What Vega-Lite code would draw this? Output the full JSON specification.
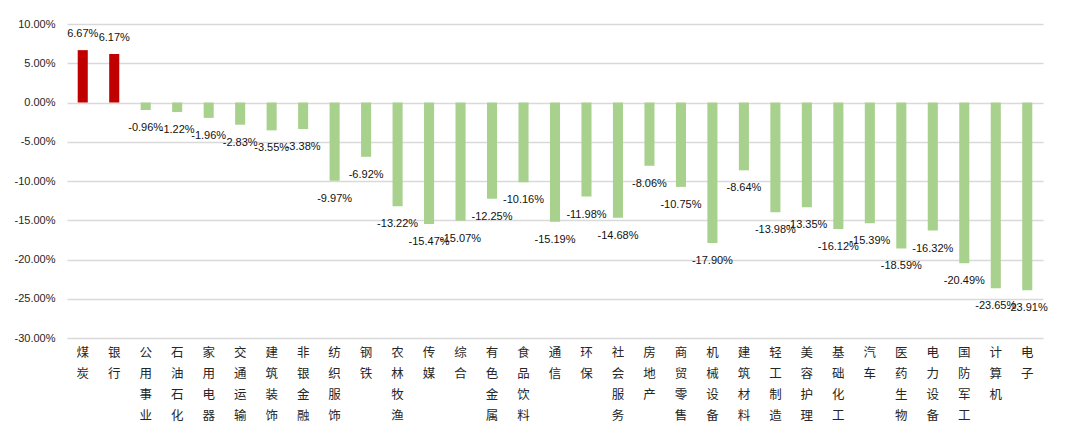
{
  "$schema": "https://vega.github.io/schema/vega-lite/v6.json",
  "autosize": {"type": "none"},
  "width": 976,
  "height": 314,
  "padding": {"left": 67, "top": 24, "right": 24, "bottom": 109},
  "background": "white",
  "config": {
    "view": {"stroke": null},
    "locale": {"number": {"decimal": ".", "thousands": ",", "grouping": [3], "currency": ["$", ""], "minus": "-", "percent": "%"}}
  },
  "data": {"values": [
    {"industry": "煤炭", "ret": 0.0667},
    {"industry": "银行", "ret": 0.0617},
    {"industry": "公用事业", "ret": -0.0096},
    {"industry": "石油石化", "ret": -0.0122},
    {"industry": "家用电器", "ret": -0.0196},
    {"industry": "交通运输", "ret": -0.0283},
    {"industry": "建筑装饰", "ret": -0.0355},
    {"industry": "非银金融", "ret": -0.0338},
    {"industry": "纺织服饰", "ret": -0.0997},
    {"industry": "钢铁", "ret": -0.0692},
    {"industry": "农林牧渔", "ret": -0.1322},
    {"industry": "传媒", "ret": -0.1547},
    {"industry": "综合", "ret": -0.1507},
    {"industry": "有色金属", "ret": -0.1225},
    {"industry": "食品饮料", "ret": -0.1016},
    {"industry": "通信", "ret": -0.1519},
    {"industry": "环保", "ret": -0.1198},
    {"industry": "社会服务", "ret": -0.1468},
    {"industry": "房地产", "ret": -0.0806},
    {"industry": "商贸零售", "ret": -0.1075},
    {"industry": "机械设备", "ret": -0.1790},
    {"industry": "建筑材料", "ret": -0.0864},
    {"industry": "轻工制造", "ret": -0.1398},
    {"industry": "美容护理", "ret": -0.1335},
    {"industry": "基础化工", "ret": -0.1612},
    {"industry": "汽车", "ret": -0.1539},
    {"industry": "医药生物", "ret": -0.1859},
    {"industry": "电力设备", "ret": -0.1632},
    {"industry": "国防军工", "ret": -0.2049},
    {"industry": "计算机", "ret": -0.2365},
    {"industry": "电子", "ret": -0.2391}
  ]},
  "encoding": {
    "x": {
      "field": "industry", "type": "nominal", "sort": null,
      "scale": {"paddingInner": 0.68, "paddingOuter": 0.34},
      "axis": {
        "title": null, "orient": "bottom", "domain": false, "ticks": false,
        "labelAngle": 0, "labelExpr": "split(datum.label, '')",
        "labelFont": "Noto Sans CJK SC", "labelFontSize": 12.5,
        "labelColor": "#262626", "labelLineHeight": 21, "labelPadding": 8,
        "labelBaseline": "top"
      }
    },
    "y": {
      "field": "ret", "type": "quantitative",
      "scale": {"domain": [-0.3, 0.1], "nice": false, "zero": true},
      "axis": {
        "title": null, "format": ".2%", "values": [-0.3, -0.25, -0.2, -0.15, -0.1, -0.05, 0, 0.05, 0.1],
        "domain": false, "ticks": false, "labelPadding": 12,
        "labelFont": "Liberation Sans", "labelFontSize": 11, "labelColor": "#262626",
        "gridColor": "#d9d9d9", "gridWidth": 1.5
      }
    }
  },
  "layer": [
    {
      "mark": {"type": "bar"},
      "encoding": {
        "color": {
          "condition": {"test": "datum.ret >= 0", "value": "#C00000"},
          "value": "#A9D18E"
        }
      }
    },
    {
      "transform": [{"filter": "datum.ret >= 0"}],
      "mark": {"type": "text", "dy": -16, "font": "Liberation Sans", "fontSize": 11, "color": "#111111"},
      "encoding": {"text": {"field": "ret", "type": "quantitative", "format": ".2%"}}
    },
    {
      "transform": [{"filter": "datum.ret < 0"}],
      "mark": {"type": "text", "dy": 18, "font": "Liberation Sans", "fontSize": 11, "color": "#111111"},
      "encoding": {"text": {"field": "ret", "type": "quantitative", "format": ".2%"}}
    }
  ]
}
